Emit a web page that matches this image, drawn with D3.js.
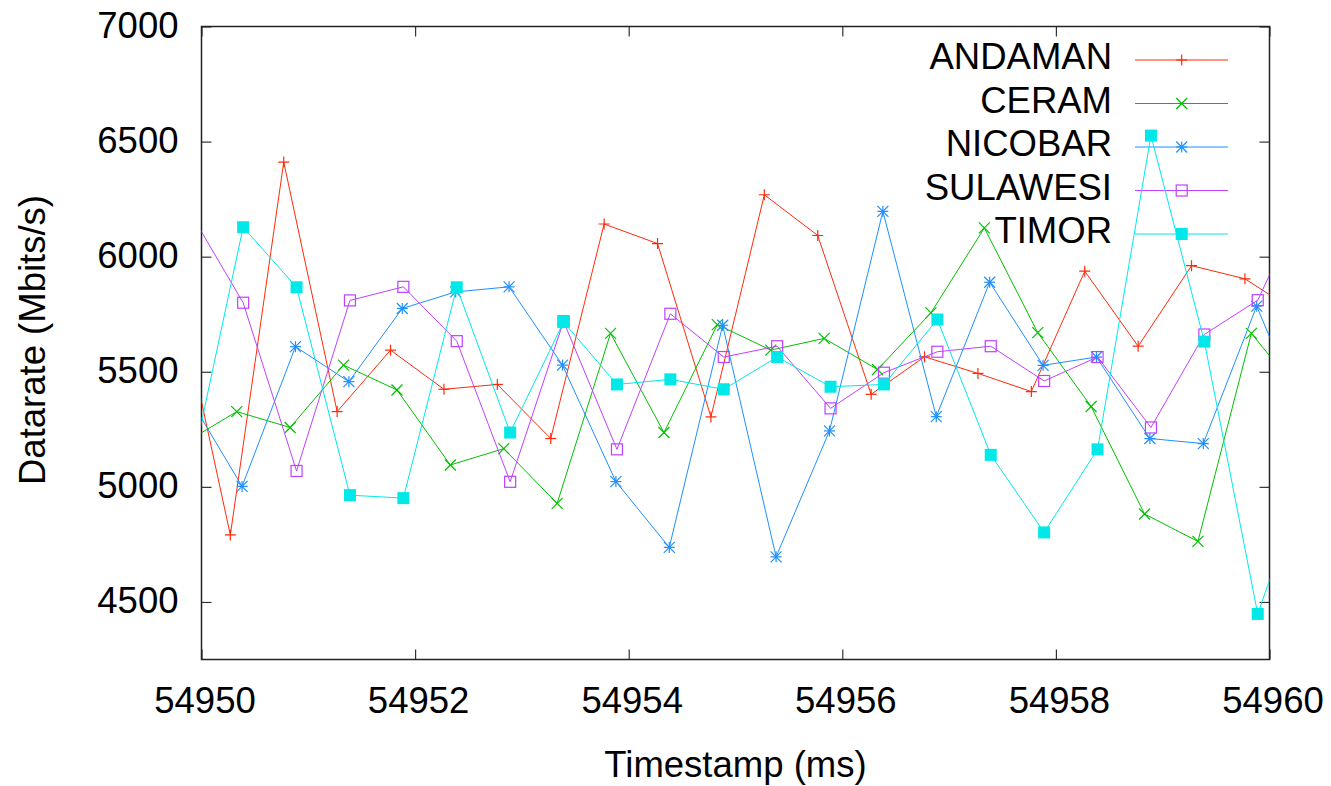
<!DOCTYPE html>
<html>
<head>
<meta charset="utf-8">
<script src="https://cdn.jsdelivr.net/npm/d3@7"></script>
<style>
  html, body { margin: 0; padding: 0; background: #fff; }
  svg { display: block; }
  text { font-family: "Liberation Sans", Arial, Helvetica, sans-serif; fill: #000; }
</style>
</head>
<body>
<svg id="chart" width="1331" height="786"></svg>
<script>
// ---- data ----
const seriesNames = ["ANDAMAN", "CERAM", "NICOBAR", "SULAWESI", "TIMOR"];

const andamanTime = [54949.77, 54950.27, 54950.77, 54951.27, 54951.77, 54952.27, 54952.77, 54953.27, 54953.77, 54954.27, 54954.77, 54955.27, 54955.77, 54956.27, 54956.77, 54957.27, 54957.77, 54958.27, 54958.77, 54959.27, 54959.77, 54960.27];
const andamanRate = [5863, 4791, 6411, 5327, 5594, 5424, 5445, 5210, 6142, 6057, 5304, 6269, 6092, 5402, 5565, 5493, 5414, 5937, 5611, 5961, 5904, 5754];

const ceramTime = [54949.83, 54950.33, 54950.83, 54951.33, 54951.83, 54952.33, 54952.83, 54953.33, 54953.83, 54954.33, 54954.83, 54955.33, 54955.83, 54956.33, 54956.83, 54957.33, 54957.83, 54958.33, 54958.83, 54959.33, 54959.83, 54960.33];
const ceramRate = [5188, 5327, 5258, 5529, 5421, 5095, 5166, 4928, 5667, 5236, 5705, 5594, 5645, 5510, 5756, 6125, 5670, 5349, 4882, 4763, 5667, 5381];

const nicobarTime = [54949.88, 54950.38, 54950.88, 54951.38, 54951.88, 54952.38, 54952.88, 54953.38, 54953.88, 54954.38, 54954.88, 54955.38, 54955.88, 54956.38, 54956.88, 54957.38, 54957.88, 54958.38, 54958.88, 54959.38, 54959.88, 54960.38];
const nicobarRate = [5391, 5002, 5609, 5457, 5775, 5847, 5869, 5529, 5023, 4737, 5702, 4696, 5243, 6197, 5305, 5889, 5528, 5564, 5210, 5188, 5785, 5234];

const sulawesiTime = [54949.89, 54950.39, 54950.89, 54951.39, 54951.89, 54952.39, 54952.89, 54953.39, 54953.89, 54954.39, 54954.89, 54955.39, 54955.89, 54956.39, 54956.89, 54957.39, 54957.89, 54958.39, 54958.89, 54959.39, 54959.89, 54960.39];
const sulawesiRate = [6195, 5800, 5069, 5810, 5869, 5633, 5022, 5719, 5163, 5752, 5564, 5611, 5341, 5496, 5587, 5611, 5460, 5564, 5258, 5662, 5811, 6307];

const timorTime = [54949.89, 54950.39, 54950.89, 54951.39, 54951.89, 54952.39, 54952.89, 54953.39, 54953.89, 54954.39, 54954.89, 54955.39, 54955.89, 54956.39, 54956.89, 54957.39, 54957.89, 54958.39, 54958.89, 54959.39, 54959.89, 54960.39];
const timorRate = [5042, 6128, 5867, 4964, 4951, 5867, 5236, 5716, 5445, 5467, 5424, 5564, 5435, 5445, 5727, 5139, 4802, 5163, 6526, 5631, 4448, 5113];

const xTicks = [54950, 54952, 54954, 54956, 54958, 54960];
const yTicks = [4500, 5000, 5500, 6000, 6500, 7000];

const xLabel = "Timestamp (ms)";
const yLabel = "Datarate (Mbits/s)";

// ---- styles ----
const colors = ["#ff2a0a", "#00c000", "#1e8fff", "#c040ff", "#00e8e8"];
const markerTypes = ["plus", "cross", "star", "square", "filled"];

const series = [
  { name: seriesNames[0], t: andamanTime, v: andamanRate },
  { name: seriesNames[1], t: ceramTime, v: ceramRate },
  { name: seriesNames[2], t: nicobarTime, v: nicobarRate },
  { name: seriesNames[3], t: sulawesiTime, v: sulawesiRate },
  { name: seriesNames[4], t: timorTime, v: timorRate }
].map((s, i) => ({
  name: s.name, color: colors[i], marker: markerTypes[i],
  points: s.t.map((t, j) => ({ t: t, v: s.v[j] }))
}));

// ---- layout ----
const L = 201.5, R = 1269.5, T = 26.5, B = 659.5;
const x = d3.scaleLinear().domain([54950, 54960]).range([L, R]);
const y = d3.scaleLinear().domain([4250, 7000]).range([B, T]);

const svg = d3.select("#chart");

svg.append("defs").append("clipPath").attr("id", "plotclip")
  .append("rect").attr("x", L).attr("y", T).attr("width", R - L).attr("height", B - T);

// axes (ticks inward, mirrored)
const tickLen = 10;
const fontSize = 36.5;

const gLeft = svg.append("g").attr("transform", `translate(${L},0)`)
  .call(d3.axisLeft(y).tickValues(yTicks).tickFormat(d3.format("d")).tickSize(-tickLen).tickSizeOuter(0).tickPadding(23));
const gBottom = svg.append("g").attr("transform", `translate(0,${B})`)
  .call(d3.axisBottom(x).tickValues(xTicks).tickFormat(d3.format("d")).tickSize(-tickLen).tickSizeOuter(0).tickPadding(28));
const gRight = svg.append("g").attr("transform", `translate(${R},0)`)
  .call(d3.axisRight(y).tickValues(yTicks).tickFormat("").tickSize(-tickLen).tickSizeOuter(0));
const gTop = svg.append("g").attr("transform", `translate(0,${T})`)
  .call(d3.axisTop(x).tickValues(xTicks).tickFormat("").tickSize(-tickLen).tickSizeOuter(0));

[gLeft, gBottom, gRight, gTop].forEach(g => {
  g.select(".domain").remove();
  g.selectAll(".tick line").attr("stroke", "#333").attr("stroke-width", 1.2);
  g.selectAll(".tick text")
    .style("font-family", '"Liberation Sans", Arial, Helvetica, sans-serif')
    .style("font-size", fontSize + "px").attr("fill", "#000");
});
gLeft.selectAll(".tick text").attr("dy", "0.29em");
gBottom.selectAll(".tick text").attr("dx", "3");

// border
svg.append("rect").attr("x", L).attr("y", T).attr("width", R - L).attr("height", B - T)
  .attr("fill", "none").attr("stroke", "#222").attr("stroke-width", 1.5);

// axis labels
svg.append("text").attr("x", (L + R) / 2).attr("y", 777)
  .attr("text-anchor", "middle").style("font-size", fontSize + "px").text(xLabel);
svg.append("text").attr("transform", `translate(45,${(T + B) / 2 - 3}) rotate(-90)`)
  .attr("text-anchor", "middle").style("font-size", fontSize + "px").text(yLabel);

// markers
function drawMarker(g, type, cx, cy, color) {
  const h = 5.5, sw = 1.2;
  if (type === "plus" || type === "star") {
    g.append("line").attr("x1", cx - h).attr("x2", cx + h).attr("y1", cy).attr("y2", cy).attr("stroke", color).attr("stroke-width", sw);
    g.append("line").attr("x1", cx).attr("x2", cx).attr("y1", cy - h).attr("y2", cy + h).attr("stroke", color).attr("stroke-width", sw);
  }
  if (type === "cross" || type === "star") {
    g.append("line").attr("x1", cx - h).attr("x2", cx + h).attr("y1", cy - h).attr("y2", cy + h).attr("stroke", color).attr("stroke-width", sw);
    g.append("line").attr("x1", cx - h).attr("x2", cx + h).attr("y1", cy + h).attr("y2", cy - h).attr("stroke", color).attr("stroke-width", sw);
  }
  if (type === "square") {
    g.append("rect").attr("x", cx - 5.5).attr("y", cy - 5.5).attr("width", 11).attr("height", 11)
      .attr("fill", "none").attr("stroke", color).attr("stroke-width", sw);
  }
  if (type === "filled") {
    g.append("rect").attr("x", cx - 6).attr("y", cy - 6).attr("width", 12).attr("height", 12)
      .attr("fill", color).attr("stroke", "none");
  }
}

const line = d3.line().x(d => x(d.t)).y(d => y(d.v));
const legendTextX = 1112, legendLineX1 = 1135, legendLineX2 = 1228, legendMarkX = 1181.7;
const legendY0 = 60, legendDY = 43.5;

series.forEach((s, i) => {
  // legend entry (drawn before its series, like gnuplot)
  const ly = legendY0 + i * legendDY;
  const lg = svg.append("g");
  lg.append("text").attr("x", legendTextX).attr("y", ly + 9.4).attr("text-anchor", "end")
    .style("font-size", fontSize + "px").text(s.name);
  lg.append("line").attr("x1", legendLineX1).attr("x2", legendLineX2).attr("y1", ly).attr("y2", ly)
    .attr("stroke", s.color).attr("stroke-width", 1);
  drawMarker(lg, s.marker, legendMarkX, ly, s.color);

  // series
  const g = svg.append("g").attr("clip-path", "url(#plotclip)");
  g.append("path").datum(s.points).attr("d", line)
    .attr("fill", "none").attr("stroke", s.color).attr("stroke-width", 1);
  s.points.filter(d => d.t >= 54950 && d.t <= 54960).forEach(d => {
    drawMarker(g, s.marker, x(d.t), y(d.v), s.color);
  });
});
</script>
</body>
</html>
